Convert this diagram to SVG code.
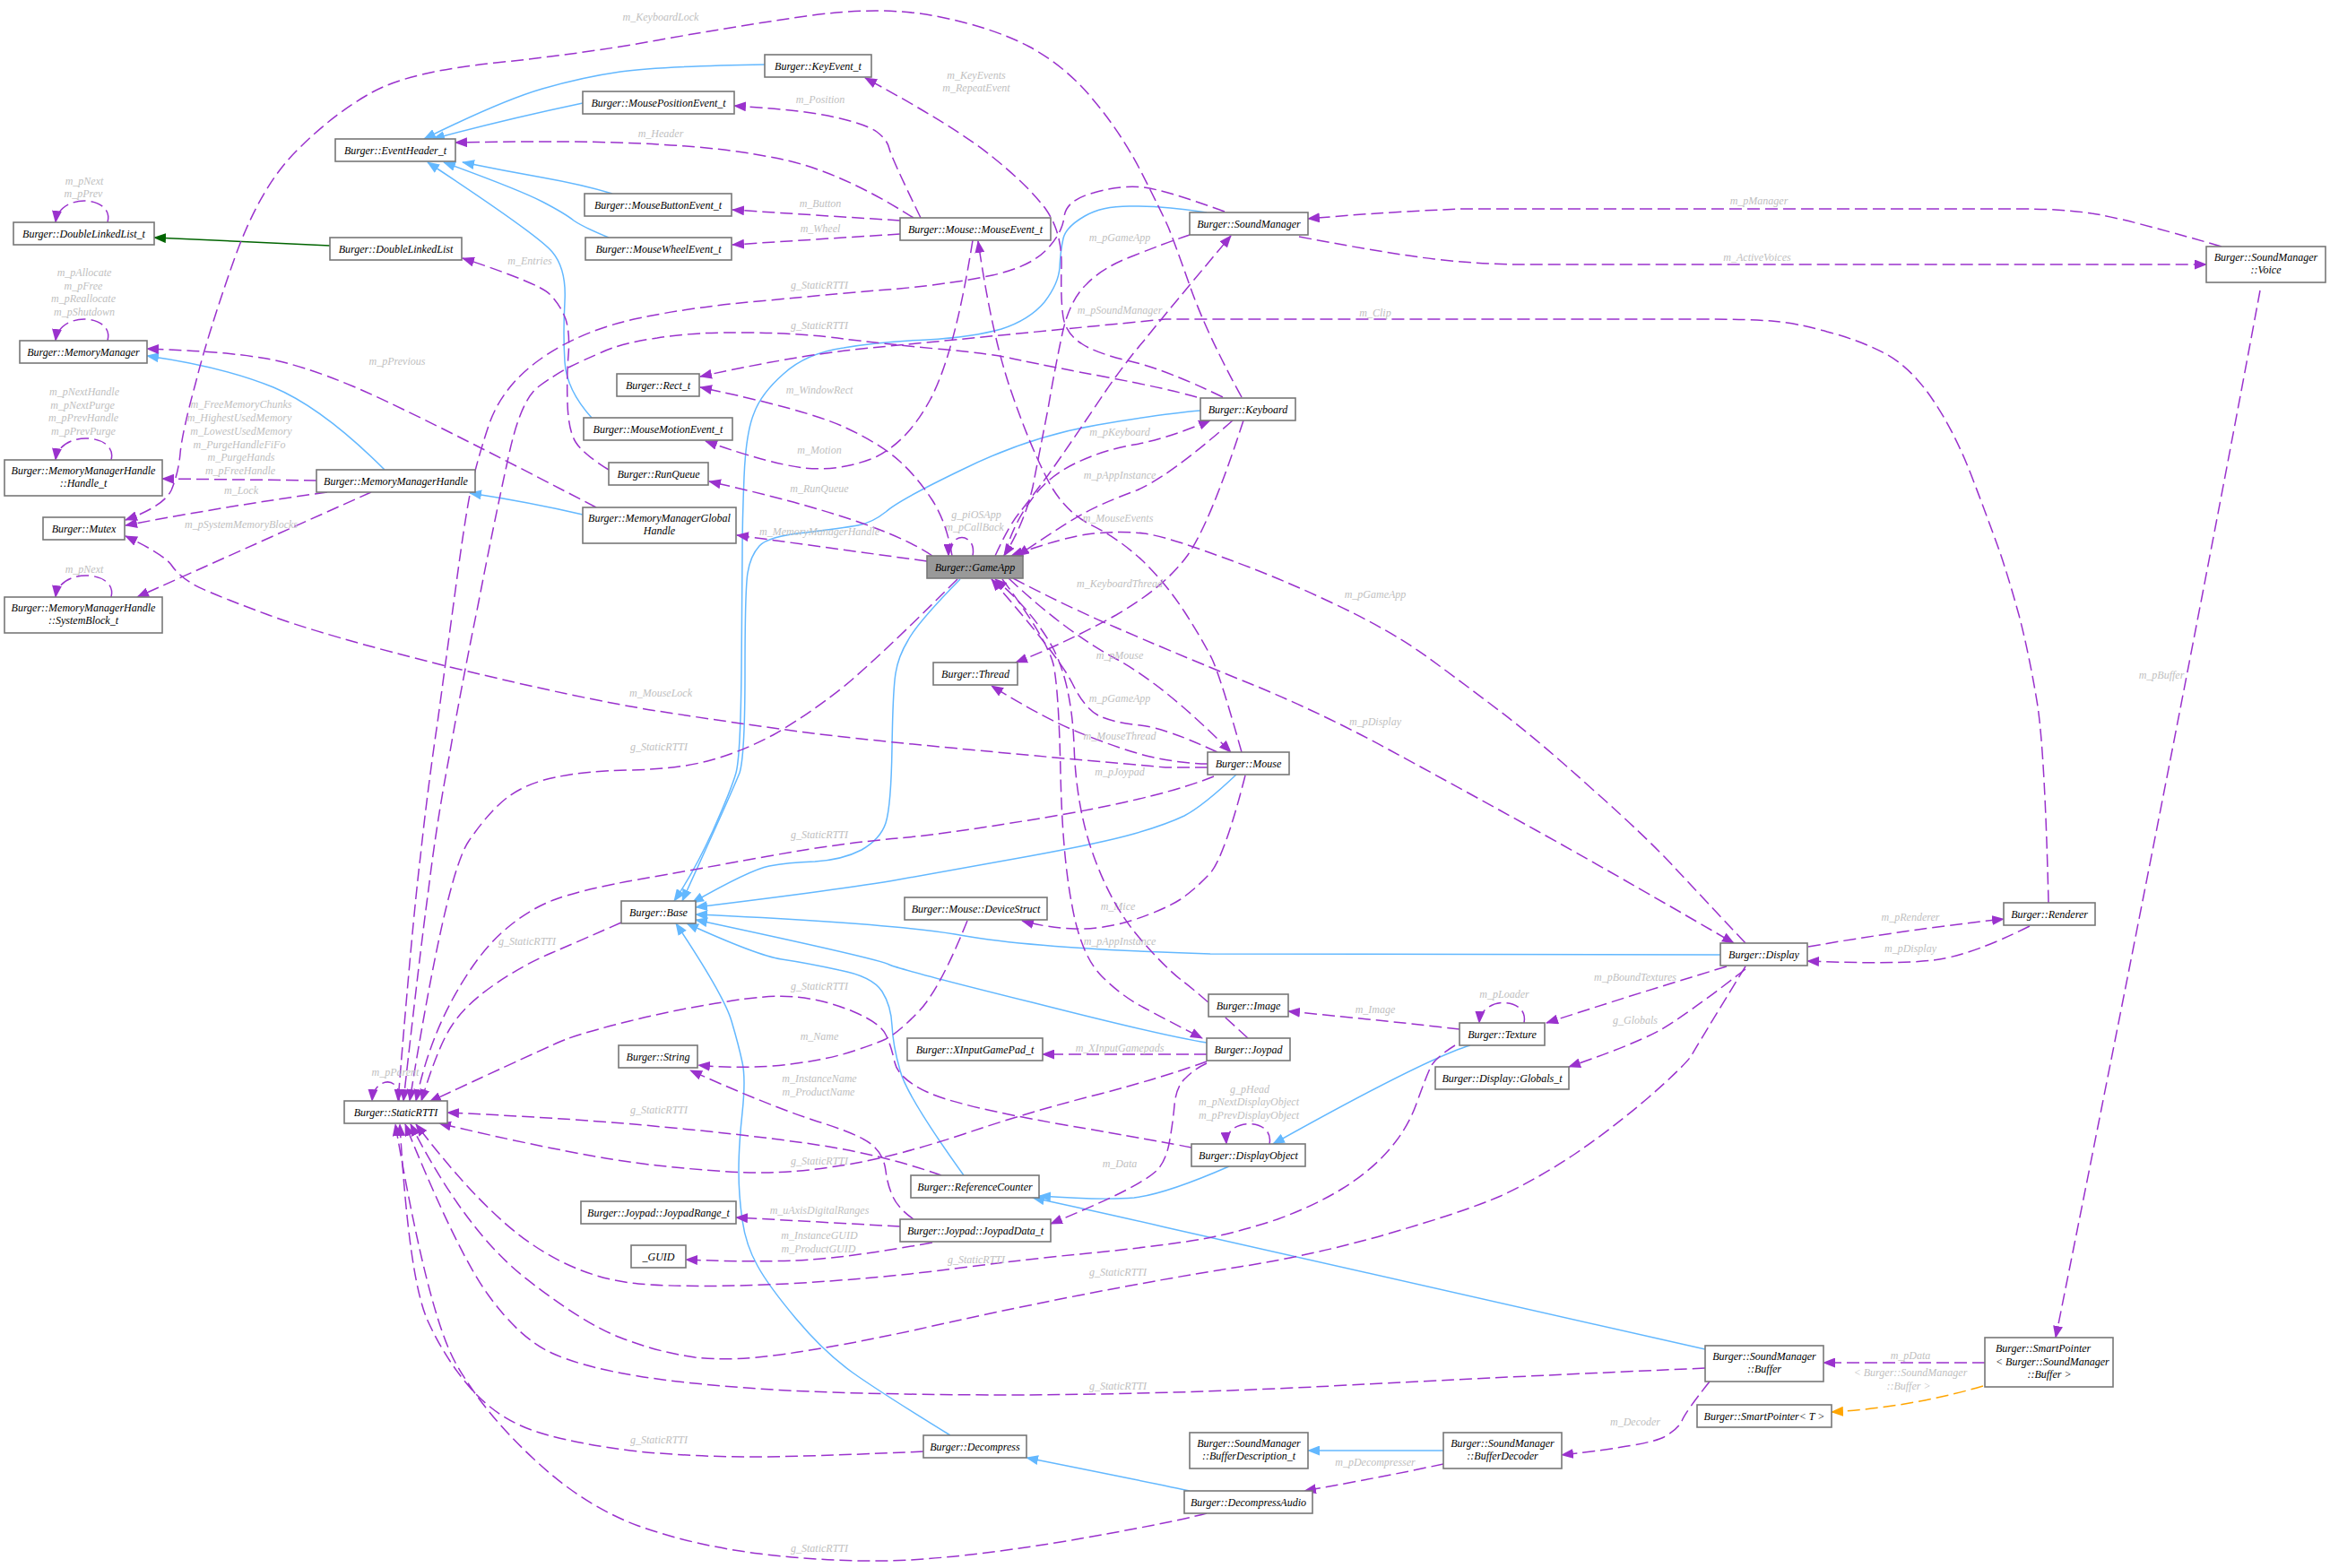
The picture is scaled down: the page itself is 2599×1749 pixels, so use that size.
<svg xmlns="http://www.w3.org/2000/svg" width="2599" height="1749" viewBox="0 0 2599 1749">
<style>
.n rect{fill:#fff;stroke:#777;stroke-width:1.6}
.n text{font-family:"Liberation Serif",serif;font-style:italic;font-size:12px;text-anchor:middle;fill:#000}
.g rect{fill:#999}
.l{font-family:"Liberation Serif",serif;font-style:italic;font-size:12px;text-anchor:middle;fill:#c0c0c0}
.u{fill:none;stroke:#9a32cd;stroke-width:1.5;stroke-dasharray:14,6;marker-end:url(#ap)}
.i{fill:none;stroke:#63b8ff;stroke-width:1.5;marker-end:url(#ab)}
.gr{fill:none;stroke:#006400;stroke-width:1.5;marker-end:url(#ag)}
.o{fill:none;stroke:#ffa500;stroke-width:1.5;stroke-dasharray:14,6;marker-end:url(#ao)}
</style>
<defs>
<marker id="ap" viewBox="0 0 14 11" refX="13" refY="5.5" markerWidth="14" markerHeight="11" markerUnits="userSpaceOnUse" orient="auto"><path d="M0,0L14,5.5L0,11z" fill="#9a32cd"/></marker>
<marker id="ab" viewBox="0 0 14 11" refX="13" refY="5.5" markerWidth="14" markerHeight="11" markerUnits="userSpaceOnUse" orient="auto"><path d="M0,0L14,5.5L0,11z" fill="#63b8ff"/></marker>
<marker id="ag" viewBox="0 0 14 11" refX="13" refY="5.5" markerWidth="14" markerHeight="11" markerUnits="userSpaceOnUse" orient="auto"><path d="M0,0L14,5.5L0,11z" fill="#006400"/></marker>
<marker id="ao" viewBox="0 0 14 11" refX="13" refY="5.5" markerWidth="14" markerHeight="11" markerUnits="userSpaceOnUse" orient="auto"><path d="M0,0L14,5.5L0,11z" fill="#ffa500"/></marker>
</defs>
<rect width="2599" height="1749" fill="#fff"/>
<g id="connectors">
<!-- inheritance -->
<path class="i" d="M853,72 Q733,74 692,80 Q650,86 605,99 Q560,112 473,155"/>
<path class="i" d="M650,115 Q560,134 483,155"/>
<path class="i" d="M683,216 Q650,206 605,198 Q560,190 516,181"/>
<path class="i" d="M679,265 Q650,253 640,246 Q630,238 605,225 Q580,212 495,181"/>
<path class="i" d="M660,466 Q632,435 630,404 Q628,372 630,336 Q632,300 616,281 Q600,262 477,181"/>
<path class="gr" d="M368,274 L172,265"/>
<path class="i" d="M429,524 Q360,455 305,432 Q249,409 164,397"/>
<path class="i" d="M650,574 Q590,560 524,550"/>
<path class="i" d="M1346,237 Q1300,230 1265,230 Q1230,229 1210,241 Q1189,253 1186,266 Q1183,279 1182,298 Q1181,316 1165,337 Q1148,357 1117,367 Q1085,376 1034,379 Q982,381 941,388 Q899,394 874,417 Q849,439 841,461 Q832,483 830,532 Q828,580 828,619 Q828,657 827,750 Q826,843 821,862 Q816,880 795,927 Q774,973 752,1005"/>
<path class="i" d="M1339,458 Q1300,461 1224,474 Q1148,487 1075,523 Q1002,558 988,571 Q973,583 957,586 Q940,589 899,594 Q857,598 847,609 Q837,620 834,639 Q831,657 831,750 Q831,843 825,862 Q818,880 761,1005"/>
<path class="i" d="M1071,646 Q1023,695 1013,714 Q1002,732 999,751 Q996,769 995,834 Q994,899 988,918 Q982,936 961,948 Q940,959 909,961 Q878,962 858,966 Q837,970 772,1007"/>
<path class="i" d="M1379,864 Q1342,899 1321,910 Q1300,920 1265,930 Q1230,940 1148,955 Q1065,970 1003,981 Q940,992 776,1012"/>
<path class="i" d="M1919,1065 L1350,1064 Q1148,1058 1065,1042 Q982,1029 776,1020"/>
<path class="i" d="M1346,1163 Q1300,1156 1151,1118 Q1002,1081 992,1076 Q982,1070 776,1026"/>
<path class="i" d="M1075,1311 Q1011,1222 1004,1194 Q996,1166 995,1144 Q994,1122 984,1106 Q973,1089 936,1082 Q899,1074 872,1070 Q845,1066 766,1030"/>
<path class="i" d="M1060,1601 Q982,1553 951,1531 Q919,1508 888,1471 Q857,1434 845,1412 Q832,1389 828,1361 Q824,1333 824,1306 Q824,1278 828,1241 Q832,1203 828,1185 Q824,1166 816,1139 Q808,1111 754,1030"/>
<path class="i" d="M1640,1166 Q1590,1181 1420,1276"/>
<path class="i" d="M1371,1301 Q1300,1332 1265,1336 Q1230,1339 1159,1334"/>
<path class="i" d="M1902,1505 L1300,1369 Q1240,1355 1152,1336"/>
<path class="i" d="M1327,1663 Q1300,1657 1145,1626"/>
<path class="i" d="M1610,1618 L1459,1618"/>
<path class="o" d="M2212,1546 Q2130,1570 2043,1575"/>
<text class="l" x="2131" y="1535">&lt; Burger::SoundManager</text>
<text class="l" x="2129" y="1550">::Buffer &gt;</text>
<!-- self loops -->
<path class="u" d="M120,248 C128,218 66,214 62,248"/>
<text class="l" x="94" y="206">m_pNext</text>
<text class="l" x="93" y="220">m_pPrev</text>
<path class="u" d="M120,380 C128,350 66,346 62,380"/>
<text class="l" x="94" y="308">m_pAllocate</text>
<text class="l" x="93" y="323">m_pFree</text>
<text class="l" x="93" y="337">m_pReallocate</text>
<text class="l" x="94" y="352">m_pShutdown</text>
<path class="u" d="M124,513 C132,483 66,479 62,513"/>
<text class="l" x="94" y="441">m_pNextHandle</text>
<text class="l" x="92" y="456">m_pNextPurge</text>
<text class="l" x="93" y="470">m_pPrevHandle</text>
<text class="l" x="93" y="485">m_pPrevPurge</text>
<path class="u" d="M124,666 C132,636 66,632 62,666"/>
<text class="l" x="94" y="639">m_pNext</text>
<path class="u" d="M353,536 L181,534"/>
<text class="l" x="269" y="455">m_FreeMemoryChunks</text>
<text class="l" x="267" y="470">m_HighestUsedMemory</text>
<text class="l" x="269" y="485">m_LowestUsedMemory</text>
<text class="l" x="267" y="500">m_PurgeHandleFiFo</text>
<text class="l" x="269" y="514">m_PurgeHands</text>
<text class="l" x="268" y="529">m_pFreeHandle</text>
<path class="u" d="M365,549 Q250,565 140,586"/>
<text class="l" x="269" y="551">m_Lock</text>
<path class="u" d="M414,549 Q300,600 153,666"/>
<text class="l" x="269" y="589">m_pSystemMemoryBlocks</text>
<path class="u" d="M665,566 Q456,457 394,431 Q332,405 291,399 Q249,392 164,389"/>
<text class="l" x="443" y="407">m_pPrevious</text>
<path class="u" d="M679,524 Q650,506 642,493 Q634,480 633,450 Q632,420 634,396 Q636,372 631,356 Q625,340 613,328 Q601,316 516,288"/>
<text class="l" x="591" y="295">m_Entries</text>
<path class="u" d="M1385,443 Q1346,372 1328,321 Q1310,270 1303,253 Q1295,235 1273,192 Q1251,149 1220,112 Q1189,74 1148,52 Q1106,30 1044,18 Q982,6 899,18 Q816,30 733,45 Q650,60 553,70 Q456,80 415,103 Q373,126 332,167 Q290,208 261,290 Q232,372 218,428 Q203,483 201,506 Q199,528 191,547 Q182,565 140,580"/>
<text class="l" x="737" y="23">m_KeyboardLock</text>
<path class="u" d="M1347,856 L1300,856 Q982,828 899,817 Q816,806 733,793 Q650,780 506,745 Q361,709 297,685 Q232,661 216,652 Q199,642 191,630 Q182,618 140,598"/>
<text class="l" x="737" y="777">m_MouseLock</text>
<path class="u" d="M1027,243 Q994,175 992,166 Q990,156 978,147 Q965,138 932,131 Q899,123 819,118"/>
<text class="l" x="915" y="115">m_Position</text>
<path class="u" d="M1019,243 Q940,193 878,179 Q816,165 733,161 Q650,156 508,159"/>
<text class="l" x="737" y="153">m_Header</text>
<path class="u" d="M1004,246 L817,234"/>
<text class="l" x="915" y="231">m_Button</text>
<path class="u" d="M1004,261 L817,273"/>
<text class="l" x="915" y="259">m_Wheel</text>
<path class="u" d="M1085,268 Q1065,394 1038,445 Q1011,495 974,511 Q936,526 897,522 Q857,517 787,492"/>
<text class="l" x="914" y="506">m_Motion</text>
<path class="u" d="M1385,839 Q1362,757 1352,735 Q1341,713 1321,682 Q1300,650 1274,625 Q1247,600 1216,585 Q1185,569 1167,532 Q1148,495 1127,434 Q1106,372 1091,269"/>
<text class="l" x="1247" y="582">m_MouseEvents</text>
<path class="u" d="M1364,443 Q1300,412 1261,403 Q1222,394 1206,383 Q1189,372 1186,354 Q1183,335 1184,298 Q1185,260 1167,234 Q1148,208 1107,175 Q1065,141 965,87"/>
<text class="l" x="1089" y="88">m_KeyEvents</text>
<text class="l" x="1089" y="102">m_RepeatEvent</text>
<!-- StaticRTTI -->
<path class="u" d="M1366,236 Q1300,212 1276,209 Q1251,206 1220,215 Q1189,223 1187,242 Q1185,260 1167,279 Q1148,298 1107,307 Q1065,316 1003,322 Q940,327 857,335 Q774,342 712,355 Q650,368 605,399 Q560,430 545,475 Q530,520 524,552 Q518,583 508,658 Q498,732 488,806 Q477,880 469,955 Q460,1029 444,1228"/>
<text class="l" x="914" y="322">g_StaticRTTI</text>
<path class="u" d="M1335,443 Q1300,433 1236,421 Q1172,409 1139,402 Q1106,394 1044,389 Q982,383 941,378 Q899,372 837,371 Q774,370 733,377 Q692,383 671,393 Q650,402 636,409 Q622,416 601,431 Q580,446 566,515 Q551,583 533,676 Q514,769 501,844 Q487,918 478,992 Q468,1066 450,1228"/>
<text class="l" x="914" y="367">g_StaticRTTI</text>
<path class="u" d="M1068,646 Q982,732 941,766 Q899,799 862,820 Q824,840 789,849 Q754,858 702,859 Q650,860 620,867 Q589,873 568,888 Q547,903 523,938 Q498,973 457,1228"/>
<text class="l" x="735" y="837">g_StaticRTTI</text>
<path class="u" d="M1354,866 Q1300,888 1183,909 Q1065,929 1003,935 Q940,940 857,955 Q774,970 712,981 Q650,992 620,1003 Q589,1014 560,1040 Q531,1066 504,1116 Q477,1166 464,1228"/>
<text class="l" x="914" y="935">g_StaticRTTI</text>
<path class="u" d="M693,1029 Q650,1048 615,1063 Q580,1078 549,1100 Q518,1122 504,1144 Q489,1166 470,1228"/>
<text class="l" x="588" y="1054">g_StaticRTTI</text>
<path class="u" d="M1329,1280 Q1300,1274 1183,1254 Q1065,1233 1034,1218 Q1002,1203 998,1185 Q994,1166 988,1154 Q982,1141 951,1128 Q919,1115 888,1112 Q857,1109 806,1118 Q754,1126 702,1139 Q650,1152 632,1159 Q614,1166 479,1229"/>
<text class="l" x="914" y="1104">g_StaticRTTI</text>
<path class="u" d="M445,1228 C449,1200 417,1200 415,1228"/>
<text class="l" x="441" y="1200">m_pParent</text>
<path class="u" d="M1050,1311 Q982,1287 905,1276 Q828,1265 739,1257 Q650,1248 499,1241"/>
<text class="l" x="735" y="1242">g_StaticRTTI</text>
<path class="u" d="M1346,1184 Q1300,1201 1224,1221 Q1148,1240 1075,1265 Q1002,1289 951,1298 Q899,1307 858,1308 Q816,1309 733,1300 Q650,1291 490,1253"/>
<text class="l" x="914" y="1299">g_StaticRTTI</text>
<path class="u" d="M1623,1166 Q1599,1181 1595,1192 Q1590,1203 1580,1231 Q1570,1259 1549,1283 Q1528,1307 1497,1326 Q1466,1345 1425,1360 Q1383,1374 1342,1382 Q1300,1389 1224,1397 Q1148,1404 1065,1415 Q982,1426 878,1432 Q774,1437 712,1432 Q650,1426 595,1389 Q539,1352 464,1254"/>
<text class="l" x="1089" y="1409">g_StaticRTTI</text>
<path class="u" d="M1947,1078 Q1893,1166 1887,1177 Q1880,1188 1839,1224 Q1798,1259 1757,1287 Q1715,1315 1674,1334 Q1632,1352 1549,1376 Q1466,1400 1383,1413 Q1300,1426 1203,1445 Q1106,1464 1023,1483 Q940,1501 878,1510 Q816,1519 775,1514 Q733,1508 692,1492 Q650,1476 584,1424 Q518,1371 458,1254"/>
<text class="l" x="1247" y="1423">g_StaticRTTI</text>
<path class="u" d="M1902,1526 Q1632,1538 1466,1547 Q1300,1555 1141,1556 Q982,1556 878,1551 Q774,1545 712,1535 Q650,1525 615,1509 Q580,1493 545,1445 Q510,1397 452,1254"/>
<text class="l" x="1247" y="1550">g_StaticRTTI</text>
<path class="u" d="M1030,1619 Q899,1625 837,1625 Q774,1625 712,1619 Q650,1612 605,1599 Q560,1586 529,1553 Q498,1519 477,1473 Q456,1426 446,1254"/>
<text class="l" x="735" y="1610">g_StaticRTTI</text>
<path class="u" d="M1346,1688 Q1300,1700 1183,1720 Q1065,1739 992,1741 Q919,1742 847,1733 Q774,1724 712,1702 Q650,1679 595,1627 Q539,1575 508,1520 Q477,1464 441,1254"/>
<text class="l" x="914" y="1731">g_StaticRTTI</text>
<!-- misc -->
<path class="u" d="M1079,1027 Q1048,1104 1025,1128 Q1002,1152 988,1159 Q973,1166 940,1176 Q907,1185 862,1189 Q816,1192 779,1188"/>
<text class="l" x="914" y="1160">m_Name</text>
<path class="u" d="M1019,1360 Q1002,1348 996,1335 Q990,1322 988,1306 Q986,1289 974,1278 Q961,1266 909,1250 Q857,1233 770,1194"/>
<text class="l" x="914" y="1207">m_InstanceName</text>
<text class="l" x="913" y="1222">m_ProductName</text>
<path class="u" d="M1346,1176 L1163,1176"/>
<text class="l" x="1249" y="1173">m_XInputGamepads</text>
<path class="u" d="M1346,1186 Q1333,1192 1323,1202 Q1312,1211 1310,1233 Q1308,1255 1304,1276 Q1300,1296 1290,1306 Q1280,1315 1255,1328 Q1230,1341 1172,1365"/>
<text class="l" x="1249" y="1302">m_Data</text>
<path class="u" d="M1004,1368 L821,1358"/>
<text class="l" x="914" y="1354">m_uAxisDigitalRanges</text>
<path class="u" d="M1040,1386 Q940,1404 888,1406 Q837,1408 765,1405"/>
<text class="l" x="914" y="1382">m_InstanceGUID</text>
<text class="l" x="913" y="1397">m_ProductGUID</text>
<path class="u" d="M1347,852 Q1300,851 1255,836 Q1210,821 1179,806 Q1148,791 1106,765"/>
<text class="l" x="1249" y="825">m_MouseThread</text>
<path class="u" d="M1387,469 Q1350,583 1325,619 Q1300,654 1245,686 Q1189,717 1133,739"/>
<text class="l" x="1249" y="655">m_KeyboardThread</text>
<path class="u" d="M1389,865 Q1366,955 1350,974 Q1333,992 1317,1003 Q1300,1014 1265,1026 Q1230,1037 1199,1036 Q1168,1035 1140,1027"/>
<text class="l" x="1247" y="1015">m_Mice</text>
<path class="u" d="M1125,645 Q1189,705 1245,735 Q1300,765 1373,839"/>
<text class="l" x="1249" y="735">m_pMouse</text>
<path class="u" d="M1358,839 Q1300,812 1272,809 Q1243,806 1227,799 Q1210,791 1196,762 Q1181,732 1106,646"/>
<text class="l" x="1249" y="783">m_pGameApp</text>
<path class="u" d="M1118,646 Q1168,713 1175,741 Q1181,769 1183,862 Q1185,955 1196,1011 Q1206,1066 1229,1089 Q1251,1111 1276,1124 Q1300,1137 1341,1158"/>
<text class="l" x="1249" y="865">m_pJoypad</text>
<path class="u" d="M1392,1158 Q1340,1110 1320,1095 Q1300,1080 1270,1045 Q1240,1010 1220,955 Q1200,900 1198,830 Q1195,760 1173,720 Q1150,680 1110,646"/>
<text class="l" x="1249" y="1054">m_pAppInstance</text>
<path class="u" d="M1130,645 Q1189,676 1245,700 Q1300,724 1383,758 Q1466,791 1549,836 Q1632,881 1715,927 Q1798,973 1934,1052"/>
<text class="l" x="1534" y="809">m_pDisplay</text>
<path class="u" d="M1947,1052 Q1901,1003 1870,970 Q1839,936 1777,881 Q1715,825 1674,794 Q1632,762 1591,732 Q1549,702 1487,673 Q1424,643 1362,621 Q1300,598 1276,595 Q1251,592 1220,595 Q1189,598 1128,620"/>
<text class="l" x="1534" y="667">m_pGameApp</text>
<path class="u" d="M1327,262 Q1300,271 1265,285 Q1230,298 1212,317 Q1193,335 1185,372 Q1177,409 1169,456 Q1160,502 1152,543 Q1143,583 1120,620"/>
<text class="l" x="1249" y="269">m_pGameApp</text>
<path class="u" d="M1110,620 Q1127,583 1138,571 Q1148,558 1169,530 Q1189,502 1220,456 Q1251,409 1276,380 Q1300,350 1373,263"/>
<text class="l" x="1249" y="350">m_pSoundManager</text>
<path class="u" d="M1120,620 Q1131,583 1150,558 Q1168,532 1199,517 Q1230,502 1265,496 Q1300,490 1350,469"/>
<text class="l" x="1249" y="486">m_pKeyboard</text>
<path class="u" d="M1375,469 Q1300,535 1265,548 Q1230,561 1210,572 Q1189,583 1135,620"/>
<text class="l" x="1249" y="534">m_pAppInstance</text>
<path class="u" d="M1085,620 C1090,594 1058,592 1058,620"/>
<text class="l" x="1089" y="578">g_piOSApp</text>
<text class="l" x="1087" y="592">m_pCallBack</text>
<path class="u" d="M1062,620 Q1056,583 1040,558 Q1023,532 1003,514 Q982,495 941,476 Q899,457 781,432"/>
<text class="l" x="914" y="439">m_WindowRect</text>
<path class="u" d="M2285,1007 Q2281,843 2273,788 Q2264,732 2252,686 Q2239,639 2229,611 Q2219,583 2200,533 Q2181,483 2156,446 Q2131,409 2102,394 Q2073,379 2038,370 Q2003,360 1976,358 Q1949,356 1900,356 L1300,356 Q1065,379 982,387 Q899,394 781,420"/>
<text class="l" x="1534" y="353">m_Clip</text>
<path class="u" d="M1040,620 Q982,580 791,537"/>
<text class="l" x="914" y="549">m_RunQueue</text>
<path class="u" d="M1034,626 L822,597"/>
<text class="l" x="914" y="597">m_MemoryManagerHandle</text>
<path class="u" d="M1628,1148 Q1560,1140 1437,1128"/>
<text class="l" x="1534" y="1130">m_Image</text>
<path class="u" d="M1700,1141 C1706,1112 1652,1110 1650,1141"/>
<text class="l" x="1678" y="1113">m_pLoader</text>
<path class="u" d="M1926,1078 Q1820,1110 1725,1141"/>
<text class="l" x="1824" y="1094">m_pBoundTextures</text>
<path class="u" d="M1947,1081 Q1880,1133 1850,1150 Q1820,1166 1750,1190"/>
<text class="l" x="1824" y="1142">g_Globals</text>
<path class="u" d="M2017,1056 Q2120,1038 2235,1025"/>
<text class="l" x="2131" y="1027">m_pRenderer</text>
<path class="u" d="M2264,1033 Q2198,1066 2157,1071 Q2115,1076 2016,1072"/>
<text class="l" x="2131" y="1062">m_pDisplay</text>
<path class="u" d="M1416,1276 C1422,1246 1366,1246 1368,1276"/>
<text class="l" x="1394" y="1219">g_pHead</text>
<text class="l" x="1393" y="1233">m_pNextDisplayObject</text>
<text class="l" x="1393" y="1248">m_pPrevDisplayObject</text>
<path class="u" d="M2478,275 Q2364,242 2333,238 Q2301,233 2250,233 L1632,233 Q1549,236 1459,244"/>
<text class="l" x="1962" y="228">m_pManager</text>
<path class="u" d="M1449,264 Q1549,283 1600,289 Q1652,295 1700,295 L2461,295"/>
<text class="l" x="1960" y="291">m_ActiveVoices</text>
<path class="u" d="M2521,324 Q2440,760 2293,1492"/>
<text class="l" x="2411" y="757">m_pBuffer</text>
<path class="u" d="M2214,1520 L2034,1520"/>
<text class="l" x="2131" y="1516">m_pData</text>
<path class="u" d="M1907,1541 Q1880,1575 1876,1585 Q1872,1594 1856,1603 Q1839,1612 1742,1623"/>
<text class="l" x="1824" y="1590">m_Decoder</text>
<path class="u" d="M1610,1633 Q1540,1648 1455,1663"/>
<text class="l" x="1534" y="1635">m_pDecompresser</text>
</g>
<g id="n_EventHeader" class="n"><rect x="374" y="155" width="134" height="25"/><text x="441" y="172">Burger::EventHeader_t</text></g>
<g id="n_DoubleLinkedList_t" class="n"><rect x="15" y="248" width="157" height="25"/><text x="93.5" y="265">Burger::DoubleLinkedList_t</text></g>
<g id="n_DoubleLinkedList" class="n"><rect x="368" y="265" width="147" height="25"/><text x="441.5" y="282">Burger::DoubleLinkedList</text></g>
<g id="n_MemoryManager" class="n"><rect x="22" y="380" width="142" height="25"/><text x="93" y="397">Burger::MemoryManager</text></g>
<g id="n_Handle_t" class="n"><rect x="5" y="513" width="176" height="40"/><text x="93" y="529">Burger::MemoryManagerHandle</text><text x="93" y="543">::Handle_t</text></g>
<g id="n_MemoryManagerHandle" class="n"><rect x="353" y="524" width="177" height="25"/><text x="441.5" y="541">Burger::MemoryManagerHandle</text></g>
<g id="n_Mutex" class="n"><rect x="48" y="577" width="91" height="25"/><text x="93.5" y="594">Burger::Mutex</text></g>
<g id="n_SystemBlock_t" class="n"><rect x="5" y="666" width="176" height="40"/><text x="93" y="682">Burger::MemoryManagerHandle</text><text x="93" y="696">::SystemBlock_t</text></g>
<g id="n_KeyEvent_t" class="n"><rect x="853" y="61" width="119" height="25"/><text x="912.5" y="78">Burger::KeyEvent_t</text></g>
<g id="n_MousePositionEvent_t" class="n"><rect x="650" y="102" width="169" height="25"/><text x="734.5" y="119">Burger::MousePositionEvent_t</text></g>
<g id="n_MouseButtonEvent_t" class="n"><rect x="652" y="216" width="164" height="25"/><text x="734" y="233">Burger::MouseButtonEvent_t</text></g>
<g id="n_MouseWheelEvent_t" class="n"><rect x="653" y="265" width="163" height="25"/><text x="734.5" y="282">Burger::MouseWheelEvent_t</text></g>
<g id="n_MouseEvent_t" class="n"><rect x="1004" y="243" width="168" height="25"/><text x="1088" y="260">Burger::Mouse::MouseEvent_t</text></g>
<g id="n_Rect_t" class="n"><rect x="688" y="417" width="92" height="25"/><text x="734" y="434">Burger::Rect_t</text></g>
<g id="n_MouseMotionEvent_t" class="n"><rect x="651" y="466" width="166" height="25"/><text x="734" y="483">Burger::MouseMotionEvent_t</text></g>
<g id="n_RunQueue" class="n"><rect x="679" y="516" width="111" height="25"/><text x="734.5" y="533">Burger::RunQueue</text></g>
<g id="n_MemoryManagerGlobalHandle" class="n"><rect x="650" y="566" width="171" height="40"/><text x="735.5" y="582">Burger::MemoryManagerGlobal</text><text x="735.5" y="596">Handle</text></g>
<g id="n_SoundManager" class="n"><rect x="1327" y="237" width="132" height="25"/><text x="1393" y="254">Burger::SoundManager</text></g>
<g id="n_Keyboard" class="n"><rect x="1339" y="444" width="106" height="25"/><text x="1392" y="461">Burger::Keyboard</text></g>
<g id="n_Voice" class="n"><rect x="2461" y="275" width="133" height="40"/><text x="2527.5" y="291">Burger::SoundManager</text><text x="2527.5" y="305">::Voice</text></g>
<g id="n_GameApp" class="n g"><rect x="1034" y="620" width="107" height="25"/><text x="1087.5" y="637">Burger::GameApp</text></g>
<g id="n_Thread" class="n"><rect x="1041" y="739" width="94" height="25"/><text x="1088" y="756">Burger::Thread</text></g>
<g id="n_Base" class="n"><rect x="693" y="1005" width="83" height="25"/><text x="734.5" y="1022">Burger::Base</text></g>
<g id="n_DeviceStruct" class="n"><rect x="1009" y="1001" width="159" height="25"/><text x="1088.5" y="1018">Burger::Mouse::DeviceStruct</text></g>
<g id="n_Mouse" class="n"><rect x="1347" y="839" width="91" height="25"/><text x="1392.5" y="856">Burger::Mouse</text></g>
<g id="n_Display" class="n"><rect x="1919" y="1052" width="97" height="25"/><text x="1967.5" y="1069">Burger::Display</text></g>
<g id="n_Image" class="n"><rect x="1348" y="1109" width="89" height="25"/><text x="1392.5" y="1126">Burger::Image</text></g>
<g id="n_Texture" class="n"><rect x="1628" y="1141" width="95" height="25"/><text x="1675.5" y="1158">Burger::Texture</text></g>
<g id="n_Renderer" class="n"><rect x="2235" y="1007" width="102" height="25"/><text x="2286" y="1024">Burger::Renderer</text></g>
<g id="n_StaticRTTI" class="n"><rect x="384" y="1228" width="115" height="25"/><text x="441.5" y="1245">Burger::StaticRTTI</text></g>
<g id="n_String" class="n"><rect x="690" y="1166" width="88" height="25"/><text x="734" y="1183">Burger::String</text></g>
<g id="n_XInputGamePad_t" class="n"><rect x="1012" y="1158" width="151" height="25"/><text x="1087.5" y="1175">Burger::XInputGamePad_t</text></g>
<g id="n_ReferenceCounter" class="n"><rect x="1016" y="1311" width="143" height="25"/><text x="1087.5" y="1328">Burger::ReferenceCounter</text></g>
<g id="n_JoypadRange_t" class="n"><rect x="648" y="1340" width="173" height="25"/><text x="734.5" y="1357">Burger::Joypad::JoypadRange_t</text></g>
<g id="n_JoypadData_t" class="n"><rect x="1004" y="1360" width="168" height="25"/><text x="1088" y="1377">Burger::Joypad::JoypadData_t</text></g>
<g id="n_GUID" class="n"><rect x="704" y="1389" width="61" height="25"/><text x="734.5" y="1406">_GUID</text></g>
<g id="n_Decompress" class="n"><rect x="1030" y="1601" width="115" height="25"/><text x="1087.5" y="1618">Burger::Decompress</text></g>
<g id="n_Joypad" class="n"><rect x="1346" y="1158" width="93" height="25"/><text x="1392.5" y="1175">Burger::Joypad</text></g>
<g id="n_Globals_t" class="n"><rect x="1601" y="1190" width="149" height="25"/><text x="1675.5" y="1207">Burger::Display::Globals_t</text></g>
<g id="n_DisplayObject" class="n"><rect x="1329" y="1276" width="127" height="25"/><text x="1392.5" y="1293">Burger::DisplayObject</text></g>
<g id="n_BufferDescription_t" class="n"><rect x="1327" y="1598" width="132" height="40"/><text x="1393" y="1614">Burger::SoundManager</text><text x="1393" y="1628">::BufferDescription_t</text></g>
<g id="n_BufferDecoder" class="n"><rect x="1610" y="1598" width="132" height="40"/><text x="1676" y="1614">Burger::SoundManager</text><text x="1676" y="1628">::BufferDecoder</text></g>
<g id="n_DecompressAudio" class="n"><rect x="1321" y="1663" width="143" height="25"/><text x="1392.5" y="1680">Burger::DecompressAudio</text></g>
<g id="n_Buffer" class="n"><rect x="1902" y="1501" width="132" height="40"/><text x="1968" y="1517">Burger::SoundManager</text><text x="1968" y="1531">::Buffer</text></g>
<g id="n_SmartPointerT" class="n"><rect x="1893" y="1567" width="150" height="25"/><text x="1968" y="1584">Burger::SmartPointer&lt; T &gt;</text></g>
<g id="n_SmartPointerBuffer" class="n"><rect x="2214" y="1492" width="143" height="55"/><text x="2226" y="1508" style="text-anchor:start">Burger::SmartPointer</text><text x="2226" y="1523" style="text-anchor:start">&lt; Burger::SoundManager</text><text x="2286" y="1537">::Buffer &gt;</text></g>
</svg>
